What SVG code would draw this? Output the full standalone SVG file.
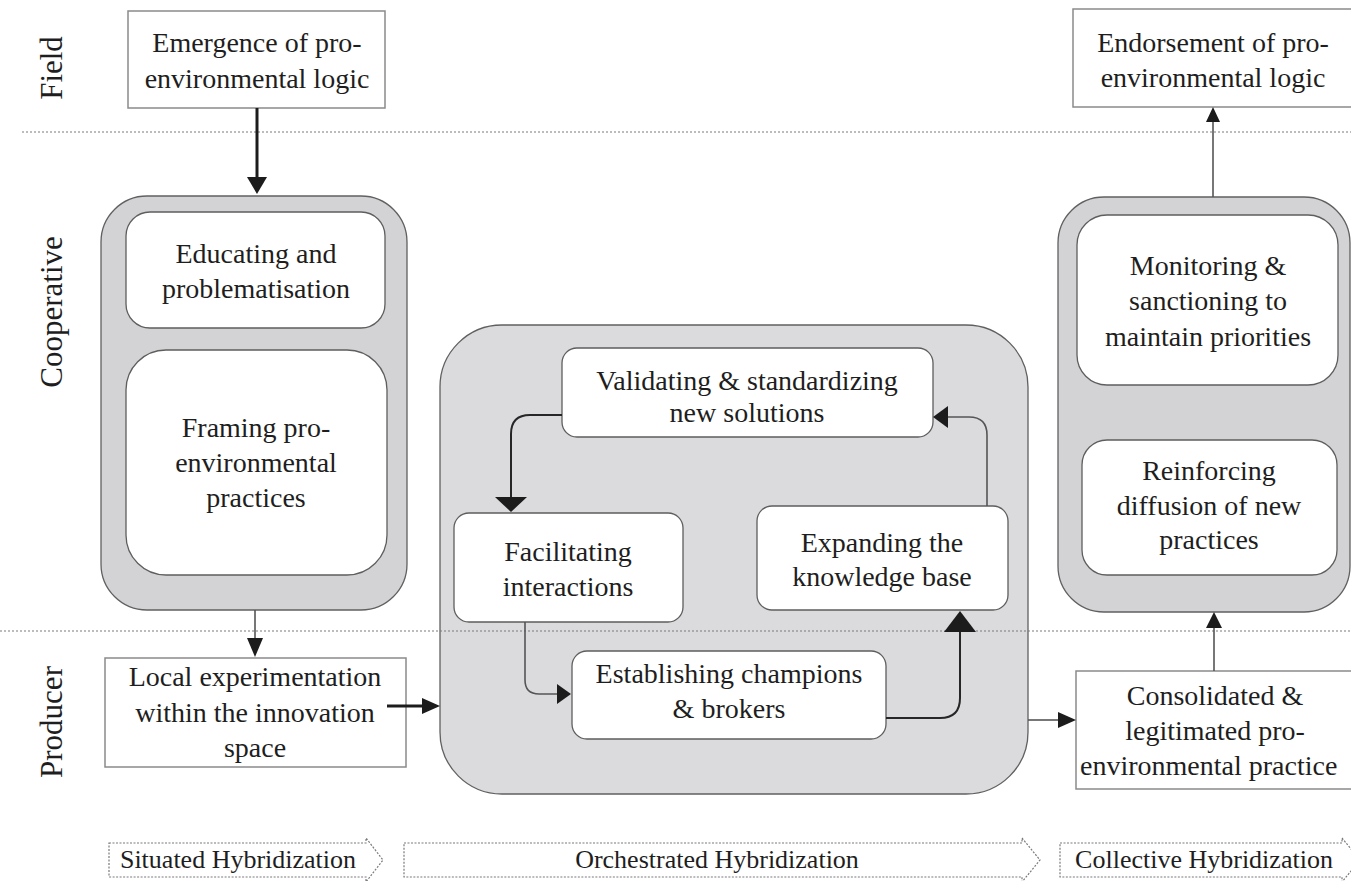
<svg xmlns="http://www.w3.org/2000/svg" width="1351" height="881" viewBox="0 0 1351 881">
<style>
text{font-family:"Liberation Serif","Times New Roman",serif;fill:#1e1e1e;}
.t{font-size:28px;text-anchor:middle;}
.lane{font-size:31px;text-anchor:middle;}
.ph{font-size:26px;text-anchor:middle;}
.box{fill:#fff;stroke:#8a8a8a;stroke-width:1.5;}
.inner{fill:#fff;stroke:#5e5e5e;stroke-width:1.3;}
.cont{fill:#d3d3d5;stroke:#606060;stroke-width:1.3;}
.contm{fill:#dbdbdd;stroke:#606060;stroke-width:1.3;}
.dot{stroke:#7a7a7a;stroke-width:1.2;stroke-dasharray:2 2;fill:none;}
.thick{stroke:#1c1c1c;stroke-width:3;fill:none;}
.mid{stroke:#262626;stroke-width:2;fill:none;}
.thin{stroke:#555;stroke-width:1.6;fill:none;}
.ah{fill:#1c1c1c;}
.phase{fill:#fff;stroke:#7a7a7a;stroke-width:1.2;stroke-dasharray:2 1.5;}
</style>

<!-- containers -->
<g id="container-cooperative-left">
<rect class="cont" x="101" y="196" width="306" height="414" rx="46"/>
</g>
<g id="container-orchestrated">
<rect class="contm" x="440" y="325" width="588" height="469" rx="62"/>
</g>
<g id="container-cooperative-right">
<rect class="cont" x="1058" y="197" width="292" height="415" rx="46"/>
</g>

<!-- lanes -->
<g id="lanes">
<line class="dot" x1="22" y1="132" x2="1351" y2="132"/>
<line class="dot" x1="0" y1="631" x2="1351" y2="631"/>
<text class="lane" transform="translate(62,68) rotate(-90)">Field</text>
<text class="lane" transform="translate(62,312) rotate(-90)">Cooperative</text>
<text class="lane" transform="translate(62,722) rotate(-90)">Producer</text>
</g>

<!-- nodes -->
<g id="emergence">
<rect class="box" x="128" y="11" width="257" height="97"/>
<text class="t" x="257" y="52">Emergence of pro-</text>
<text class="t" x="257" y="88">environmental logic</text>
</g>
<g id="endorsement">
<rect class="box" x="1073" y="9" width="280" height="98"/>
<text class="t" x="1213" y="52">Endorsement of pro-</text>
<text class="t" x="1213" y="87">environmental logic</text>
</g>
<g id="educating">
<rect class="inner" x="126" y="212" width="259" height="116" rx="24"/>
<text class="t" x="256" y="263">Educating and</text>
<text class="t" x="256" y="298">problematisation</text>
</g>
<g id="framing">
<rect class="inner" x="126" y="350" width="261" height="225" rx="40"/>
<text class="t" x="256" y="437">Framing pro-</text>
<text class="t" x="256" y="472">environmental</text>
<text class="t" x="256" y="507">practices</text>
</g>
<g id="local">
<rect class="box" x="105" y="658" width="301" height="109"/>
<text class="t" x="255" y="686">Local experimentation</text>
<text class="t" x="255" y="722">within the innovation</text>
<text class="t" x="255" y="757">space</text>
</g>
<g id="validating">
<rect class="inner" x="562" y="348" width="371" height="89" rx="15"/>
<text class="t" x="747" y="390">Validating &amp; standardizing</text>
<text class="t" x="747" y="422">new solutions</text>
</g>
<g id="facilitating">
<rect class="inner" x="454" y="513" width="229" height="109" rx="15"/>
<text class="t" x="568" y="561">Facilitating</text>
<text class="t" x="568" y="596">interactions</text>
</g>
<g id="expanding">
<rect class="inner" x="757" y="506" width="251" height="104" rx="15"/>
<text class="t" x="882" y="552">Expanding the</text>
<text class="t" x="882" y="586">knowledge base</text>
</g>
<g id="establishing">
<rect class="inner" x="572" y="651" width="314" height="88" rx="15"/>
<text class="t" x="729" y="683">Establishing champions</text>
<text class="t" x="729" y="718">&amp; brokers</text>
</g>
<g id="monitoring">
<rect class="inner" x="1077" y="215" width="261" height="170" rx="30"/>
<text class="t" x="1208" y="275">Monitoring &amp;</text>
<text class="t" x="1208" y="310">sanctioning to</text>
<text class="t" x="1208" y="346">maintain priorities</text>
</g>
<g id="reinforcing">
<rect class="inner" x="1082" y="440" width="255" height="135" rx="25"/>
<text class="t" x="1209" y="480">Reinforcing</text>
<text class="t" x="1209" y="515">diffusion of new</text>
<text class="t" x="1209" y="549">practices</text>
</g>
<g id="consolidated">
<rect class="box" x="1076" y="671" width="290" height="118"/>
<text class="t" x="1215" y="705">Consolidated &amp;</text>
<text class="t" x="1215" y="740">legitimated pro-</text>
<text x="1080" y="775" style="font-size:28px;text-anchor:start;">environmental practice</text>
</g>

<!-- connectors -->
<g id="connectors">
<path class="thick" d="M257,108 V178"/>
<polygon class="ah" points="247,177 267,177 257,194"/>
<path class="thin" d="M255,610 V640"/>
<polygon class="ah" points="247,638 263,638 255,657"/>
<path class="thick" d="M387,706 H424"/>
<polygon class="ah" points="422,698 422,714 440,706"/>
<path class="mid" d="M562,415 H530 Q511,415 511,434 V498"/>
<polygon class="ah" points="495,497 527,497 511,512"/>
<path class="thin" d="M525,622 V680 Q525,694 539,694 H559"/>
<polygon class="ah" points="557,684 557,704 571,694"/>
<path class="mid" d="M886,718 H940 Q960,718 960,698 V630"/>
<polygon class="ah" points="944,632 976,632 960,611"/>
<path class="thin" d="M987,506 V435 Q987,417 969,417 H947"/>
<polygon class="ah" points="948,406 948,428 933,417"/>
<path class="thin" d="M1028,720 H1059"/>
<polygon class="ah" points="1058,712 1058,728 1076,720"/>
<path class="thin" d="M1214,671 V628"/>
<polygon class="ah" points="1206,628 1222,628 1214,612"/>
<path class="thin" d="M1213,197 V121"/>
<polygon class="ah" points="1206,122 1220,122 1213,107"/>
</g>

<!-- phases -->
<g id="phase-situated">
<polygon class="phase" points="109,843 366,843 366,838 383,860 366,882 366,877 109,877"/>
<text class="ph" x="238" y="868">Situated Hybridization</text>
</g>
<g id="phase-orchestrated">
<polygon class="phase" points="404,843 1022,843 1022,838 1040,860 1022,882 1022,877 404,877"/>
<text class="ph" x="717" y="868">Orchestrated Hybridization</text>
</g>
<g id="phase-collective">
<polygon class="phase" points="1060,843 1342,843 1342,838 1360,860 1342,882 1342,877 1060,877"/>
<text class="ph" x="1204" y="868">Collective Hybridization</text>
</g>
</svg>
